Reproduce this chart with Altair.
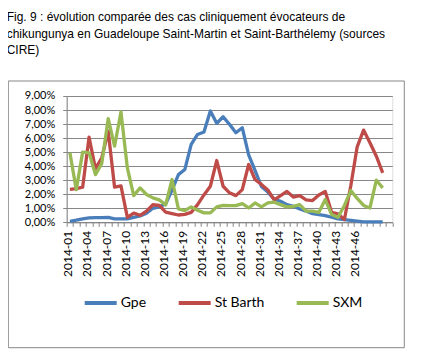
import altair as alt
import pandas as pd

weeks = list(range(1, 51))

gpe = [0.07, 0.15, 0.25, 0.32, 0.33, 0.33, 0.35, 0.25, 0.25, 0.25,
       0.35, 0.45, 0.65, 1.00, 1.10, 1.30, 2.30, 3.40, 3.76, 5.55,
       6.26, 6.43, 7.93, 7.05, 7.52, 6.98, 6.38, 6.74, 4.80, 3.70,
       2.55, 2.15, 1.65, 1.50, 1.26, 1.14, 0.95, 0.80, 0.62, 0.55,
       0.48, 0.36, 0.24, 0.19, 0.14, 0.08, 0.03, 0.03, 0.03, 0.03]

stbarth = [2.35, 2.40, 2.50, 6.07, 3.83, 4.60, 6.50, 2.50, 2.60, 0.35,
           0.65, 0.50, 0.80, 1.25, 1.20, 0.72, 0.62, 0.52, 0.57, 0.71,
           1.26, 1.95, 2.57, 4.40, 2.57, 2.10, 1.90, 2.33, 4.12, 3.05,
           2.70, 2.30, 1.60, 1.90, 2.20, 1.80, 1.90, 1.60, 1.55, 1.95,
           2.20, 0.70, 0.60, 0.20, 2.60, 5.38, 6.57, 5.67, 4.71, 3.52]

sxm = [4.95, 2.33, 5.00, 4.95, 3.40, 4.20, 7.38, 5.43, 7.86, 3.88,
       1.90, 2.45, 1.98, 1.74, 1.60, 1.24, 3.05, 0.95, 0.83, 1.10,
       0.86, 0.67, 0.67, 1.10, 1.21, 1.19, 1.19, 1.33, 1.02, 1.38,
       1.10, 1.38, 1.43, 1.26, 1.10, 1.14, 1.26, 0.79, 0.79, 0.71,
       1.62, 0.55, 0.36, 1.20, 2.26, 1.70, 1.20, 1.02, 3.00, 2.45]

series_names = ["Gpe", "St Barth", "SXM"]
series_colors = ["#4A7EBB", "#BE4B48", "#98B954"]
y_ticks = [0.00, 0.01, 0.02, 0.03, 0.04, 0.05, 0.06, 0.07, 0.08, 0.09]

title_lines = [
    "Fig. 9 : évolution comparée des cas cliniquement évocateurs de",
    "chikungunya en Guadeloupe Saint-Martin et Saint-Barthélemy  (sources",
    "CIRE)",
]

rows = []
for name, vals in zip(series_names, [gpe, stbarth, sxm]):
    for w, v in zip(weeks, vals):
        rows.append({"week": w, "value": v / 100.0, "serie": name})
df = pd.DataFrame(rows)

n_cat = 51
boundaries = [i + 0.5 for i in range(0, n_cat + 1)]

grid_col = "#868686"

lines = alt.Chart(df).mark_line(strokeWidth=3.3, strokeJoin="round").encode(
    x=alt.X(
        "week:Q",
        scale=alt.Scale(domain=[0.5, n_cat + 0.5], nice=False, zero=False),
        axis=alt.Axis(
            title=None,
            values=boundaries,
            grid=False,
            ticks=True,
            tickSize=4,
            tickColor=grid_col,
            domainColor=grid_col,
            labelAngle=-90,
            labelFlush=False,
            labelOverlap=False,
            labelPadding=4,
            labelOffset=1,
            labelFont="Lato",
            labelFontSize=12,
            labelColor="black",
            labelExpr="((datum.value + 0.5) % 3 == 1 && datum.value < 46) ? '2014-' + ((datum.value + 0.5) < 10 ? '0' : '') + (datum.value + 0.5) : ''",
        ),
    ),
    y=alt.Y(
        "value:Q",
        scale=alt.Scale(domain=[0, 0.09], nice=False),
        axis=alt.Axis(
            title=None,
            values=y_ticks,
            grid=True,
            gridColor=grid_col,
            tickSize=4,
            tickColor=grid_col,
            domainColor=grid_col,
            labelPadding=8,
            labelFont="Lato",
            labelFontSize=11,
            labelColor="black",
            labelExpr="replace(format(datum.value, '.2%'), '.', ',')",
        ),
    ),
    color=alt.Color(
        "serie:N",
        scale=alt.Scale(domain=series_names, range=series_colors),
        legend=alt.Legend(
            title=None,
            orient="none",
            legendX=16,
            legendY=189,
            direction="horizontal",
            symbolType="stroke",
            symbolSize=1024,
            symbolStrokeWidth=4,
            labelOffset=2,
            columnPadding=24,
            labelFont="Lato",
            labelFontSize=14,
            labelColor="black",
        ),
    ),
)

border = alt.Chart(pd.DataFrame({"a": [0]})).mark_rect(
    fillOpacity=0, stroke="#878787", strokeWidth=1
).encode(
    x=alt.value(-58.4), x2=alt.value(337.6), y=alt.value(-15), y2=alt.value(251.7)
)

chart = alt.layer(border, lines).properties(
    width=325.6,
    height=126.3,
    autosize=alt.AutoSizeParams(type="none"),
    padding={"left": 58.7, "top": 88, "right": 22, "bottom": 127},
    title=alt.TitleParams(
        text=title_lines,
        anchor="start",
        frame="group",
        font="Liberation Sans",
        fontSize=12,
        fontWeight="normal",
        color="black",
        lineHeight=16.7,
        dx=-60,
        dy=-23,
        offset=0,
    ),
).configure_view(strokeWidth=0).configure(background="white")

chart.save("out.html", embed_options={"renderer": "svg", "actions": False})
